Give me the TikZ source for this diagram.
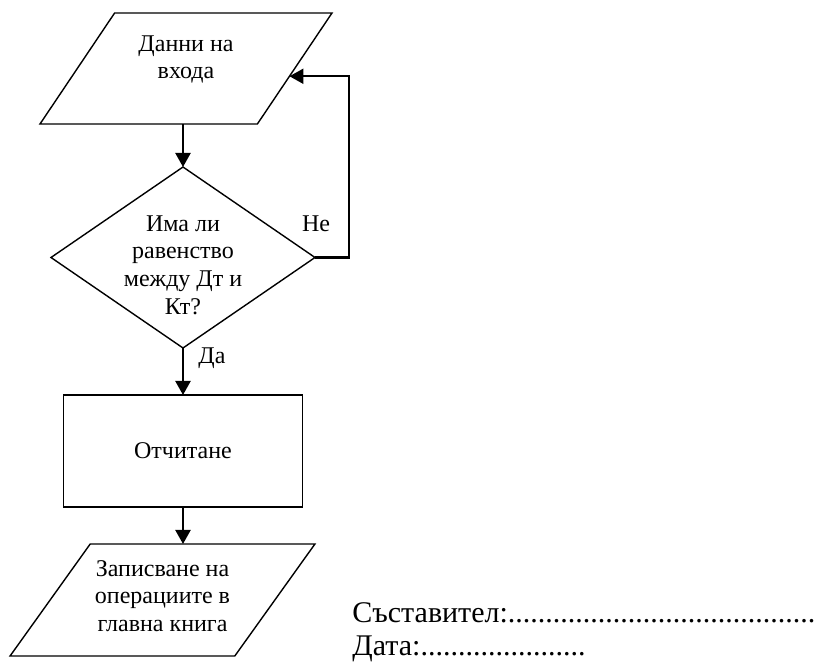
\documentclass[tikz,border=0pt]{standalone}
\usepackage{fontspec}
\setmainfont{Liberation Serif}
\usetikzlibrary{arrows.meta, shapes.geometric, positioning, calc}
\newcommand{\boxfont}{\fontsize{12}{13.8}\selectfont}
\newcommand{\signfont}{\fontsize{15}{17}\selectfont}

\begin{document}
\begin{tikzpicture}[
  x = 0.5pt, y = -0.5pt,
  > = {Triangle[length=7pt, width=7.5pt]},
  flow arrow/.style = {->, line width=1.1pt},
  block/.style = {draw, line width=0.7pt, inner sep=0pt, outer sep=0pt},
  io/.style = {block, trapezium, trapezium stretches=true, inner sep=2pt},
  txt/.style = {align=center, font=\boxfont}
]
  \useasboundingbox (0,0) rectangle (819,662);

  % input, check, posting, output
  \node[io, trapezium left angle=62.4, trapezium right angle=117.6,
        minimum width=146pt, minimum height=55.5pt,
        label={[txt, yshift=4.5pt]center:Данни на\\входа}] (input) at (186,68.5) {};
  \node[block, diamond, aspect=1.46, minimum width=132pt, minimum height=90.5pt,
        label={[txt, yshift=-3.75pt]center:Има ли\\равенство\\между Дт и\\Кт?}] (check) at (183,257.5) {};
  \node[block, rectangle, minimum width=119.5pt, minimum height=56pt, txt] (post) at (183,451) {Отчитане};
  \node[io, trapezium left angle=61, trapezium right angle=119,
        minimum width=152.5pt, minimum height=56pt,
        label={[txt, yshift=2pt]center:Записване на\\операциите в\\главна книга}] (output) at (162.5,600) {};

  \draw[flow arrow] (input.south -| check.north) -- (check.north);
  \draw[flow arrow] (check.south) -- (post.north);
  \draw[flow arrow] (post.south) -- (post.south |- output.north);
  % back to the input when the sums differ
  \draw[flow arrow] (check.east) -- ++(34,0)
    |- ($(input.top right corner)!0.57!(input.bottom right corner)$);

  \node[txt, anchor=base] (no) at (316,232) {Не};
  \node[txt, anchor=base] (yes) at (212,364) {Да};

  \node[anchor=base west, inner sep=0pt, font=\signfont] (author) at (352,622)
    {Съставител:.........................................};
  \node[anchor=base west, inner sep=0pt, font=\signfont] (date) at (352,655)
    {Дата:......................};
\end{tikzpicture}
\end{document}
